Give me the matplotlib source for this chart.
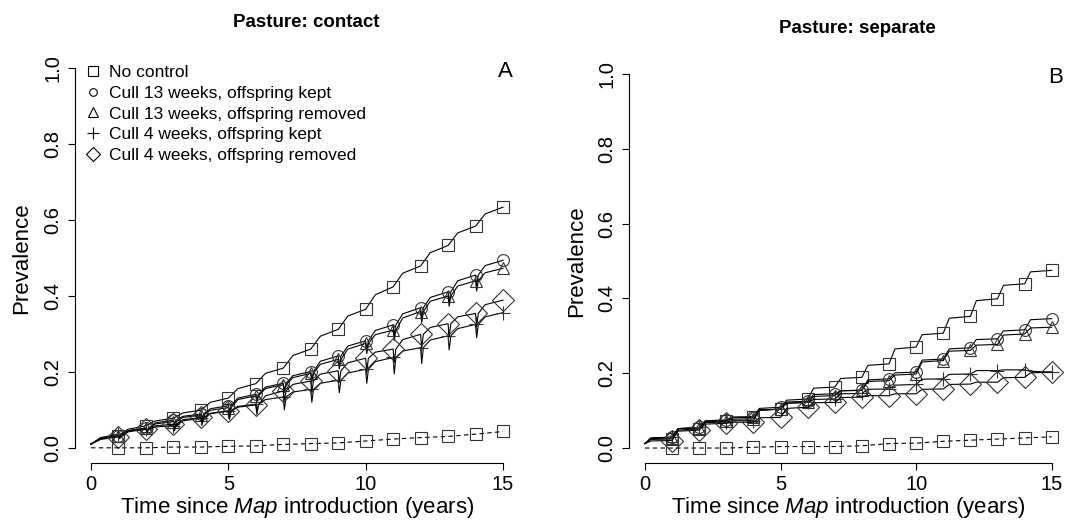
import matplotlib.pyplot as plt
from matplotlib.lines import Line2D

plt.rcParams['font.family'] = ['Liberation Sans', 'DejaVu Sans']
plt.rcParams['mathtext.fontset'] = 'custom'
plt.rcParams['mathtext.it'] = 'Liberation Sans:italic'
plt.rcParams['mathtext.rm'] = 'Liberation Sans'

years = list(range(1, 16))
labels = ['No control', 'Cull 13 weeks, offspring kept', 'Cull 13 weeks, offspring removed',
          'Cull 4 weeks, offspring kept', 'Cull 4 weeks, offspring removed']
markers = ['s', 'o', '^', '+', 'D']
msize = {'s': 9, 'o': 8.5, '^': 9, '+': 10.5, 'D': 11}
msize_leg = {'s': 6.5, 'o': 5.5, '^': 7, '+': 9, 'D': 7.5}

# ---- Pasture: contact (A) ----
# valores nos marcadores (anos 1..15)
a_none = [0.032, 0.058, 0.078, 0.099, 0.131, 0.169, 0.210, 0.260, 0.312, 0.365, 0.424, 0.479, 0.533, 0.584, 0.634]
a_c13k = [0.032, 0.052, 0.073, 0.089, 0.111, 0.141, 0.170, 0.201, 0.242, 0.282, 0.324, 0.369, 0.411, 0.455, 0.494]
a_c13r = [0.032, 0.052, 0.069, 0.086, 0.106, 0.137, 0.166, 0.196, 0.233, 0.275, 0.310, 0.359, 0.400, 0.440, 0.473]
a_c4k = [0.036, 0.049, 0.058, 0.078, 0.097, 0.115, 0.134, 0.154, 0.178, 0.207, 0.238, 0.264, 0.295, 0.325, 0.356]
a_c4r = [0.029, 0.049, 0.062, 0.080, 0.097, 0.113, 0.150, 0.176, 0.203, 0.236, 0.260, 0.299, 0.327, 0.354, 0.389]
a_low = [0.000, 0.000, 0.002, 0.002, 0.004, 0.005, 0.009, 0.011, 0.013, 0.018, 0.023, 0.027, 0.030, 0.036, 0.043]
# valores logo depois da subida anual (anos 0..14)
a_none_k = [0.024, 0.049, 0.071, 0.092, 0.120, 0.156, 0.196, 0.243, 0.294, 0.347, 0.403, 0.460, 0.514, 0.566, 0.616]
a_c13k_k = [0.024, 0.045, 0.066, 0.083, 0.103, 0.131, 0.160, 0.190, 0.228, 0.268, 0.309, 0.353, 0.396, 0.440, 0.480]
a_c13r_k = [0.024, 0.045, 0.063, 0.080, 0.099, 0.127, 0.156, 0.185, 0.220, 0.260, 0.298, 0.342, 0.386, 0.426, 0.461]
a_c4k_k = [0.027, 0.045, 0.055, 0.071, 0.090, 0.109, 0.127, 0.147, 0.170, 0.197, 0.227, 0.255, 0.284, 0.314, 0.345]
a_c4r_k = [0.022, 0.042, 0.058, 0.074, 0.091, 0.107, 0.137, 0.167, 0.194, 0.224, 0.252, 0.285, 0.317, 0.345, 0.377]
# quedas no abate (anos 1..14)
a_c13k_d = [0.028, 0.046, 0.065, 0.079, 0.098, 0.125, 0.150, 0.178, 0.215, 0.255, 0.295, 0.340, 0.382, 0.428]
a_c13r_d = [0.028, 0.046, 0.061, 0.076, 0.093, 0.121, 0.146, 0.173, 0.208, 0.248, 0.283, 0.330, 0.373, 0.413]
a_c4k_d = [0.028, 0.038, 0.045, 0.060, 0.075, 0.088, 0.100, 0.120, 0.145, 0.170, 0.195, 0.222, 0.258, 0.290]
a_c4r_d = [0.024, 0.042, 0.052, 0.068, 0.082, 0.095, 0.125, 0.148, 0.172, 0.200, 0.225, 0.262, 0.292, 0.320]

# ---- Pasture: separate (B) ----
b_none = [0.024, 0.051, 0.071, 0.082, 0.104, 0.131, 0.163, 0.189, 0.225, 0.270, 0.307, 0.352, 0.399, 0.439, 0.475]
b_c13k = [0.029, 0.055, 0.075, 0.084, 0.109, 0.125, 0.145, 0.154, 0.185, 0.203, 0.238, 0.268, 0.292, 0.316, 0.346]
b_c13r = [0.027, 0.054, 0.073, 0.078, 0.104, 0.122, 0.140, 0.155, 0.180, 0.198, 0.234, 0.261, 0.277, 0.305, 0.323]
b_c4k = [0.029, 0.055, 0.069, 0.073, 0.104, 0.122, 0.131, 0.146, 0.158, 0.170, 0.185, 0.198, 0.207, 0.209, 0.203]
b_c4r = [0.020, 0.048, 0.066, 0.069, 0.082, 0.109, 0.122, 0.136, 0.140, 0.145, 0.158, 0.171, 0.176, 0.189, 0.203]
b_low = [0.000, 0.000, 0.000, 0.002, 0.004, 0.004, 0.004, 0.006, 0.012, 0.013, 0.018, 0.021, 0.024, 0.027, 0.030]
b_none_k = [0.023, 0.048, 0.069, 0.081, 0.102, 0.128, 0.160, 0.186, 0.221, 0.265, 0.303, 0.347, 0.394, 0.435, 0.471]
b_c13k_k = [0.027, 0.052, 0.073, 0.083, 0.106, 0.123, 0.143, 0.153, 0.182, 0.201, 0.235, 0.265, 0.290, 0.313, 0.343]
b_c13r_k = [0.025, 0.051, 0.071, 0.077, 0.101, 0.120, 0.138, 0.153, 0.178, 0.195, 0.230, 0.259, 0.275, 0.302, 0.321]
b_c4k_k = [0.027, 0.052, 0.068, 0.073, 0.101, 0.120, 0.130, 0.145, 0.157, 0.168, 0.184, 0.197, 0.207, 0.209, 0.205]
b_c4r_k = [0.019, 0.045, 0.064, 0.069, 0.081, 0.106, 0.121, 0.135, 0.140, 0.145, 0.157, 0.170, 0.176, 0.188, 0.201]

a_start = 0.010
b_start = 0.012


def caminho(start, marks, knees, dips=None, dt=0.35):
    t = [0.0, dt]
    y = [start, knees[0]]
    for i, v in enumerate(marks):
        n = years[i]
        t.append(n)
        y.append(v)
        if n == years[-1]:
            break
        if dips is not None:
            t += [n + 0.04, n + 0.1]
            y += [dips[i], v]
        t.append(n + dt)
        y.append(knees[n])
    return t, y


def painel(ax, start, series, low, dt):
    for (marks, knees, dips), m in zip(series, markers):
        t, y = caminho(start, marks, knees, dips, dt)
        ax.plot(t, y, color='k', lw=0.8)
        ax.plot(years, marks, ls='none', marker=m, ms=msize[m],
                mfc='none', mec='#333333', mew=0.8)
    ax.plot([0] + years, [0] + low, color='k', lw=0.8, ls=(0, (4, 3)))
    ax.plot(years, low, ls='none', marker='s', ms=msize['s'], mfc='none', mec='#333333', mew=0.8)

    ax.set_xlim(-0.6, 15.6)
    ax.set_ylim(-0.04, 1.04)
    for s in ['top', 'right']:
        ax.spines[s].set_visible(False)
    ax.spines['left'].set_bounds(0, 1)
    ax.spines['bottom'].set_bounds(0, 15)
    ax.set_xticks([0, 5, 10, 15])
    ax.set_yticks([0, 0.2, 0.4, 0.6, 0.8, 1.0])
    ax.set_yticklabels(['0.0', '0.2', '0.4', '0.6', '0.8', '1.0'], rotation=90, va='center')
    ax.tick_params(labelsize=14.5, length=5, width=0.8)
    ax.tick_params(axis='x', pad=4)
    ax.tick_params(axis='y', pad=4)
    ax.set_xlabel('Time since $\\it{Map}$ introduction (years)', fontsize=16, labelpad=0)
    ax.set_ylabel('Prevalence', fontsize=16)
    ax.yaxis.set_label_coords(-0.095, 0.5)


fig = plt.figure(figsize=(10.79, 5.24), dpi=100)
ax1 = fig.add_axes([74.5 / 1079, 61 / 524, 445 / 1079, 410 / 524])
ax2 = fig.add_axes([628.7 / 1079, 61 / 524, 439.3 / 1079, 404 / 524])

painel(ax1, a_start,
       [(a_none, a_none_k, None), (a_c13k, a_c13k_k, a_c13k_d), (a_c13r, a_c13r_k, a_c13r_d),
        (a_c4k, a_c4k_k, a_c4k_d), (a_c4r, a_c4r_k, a_c4r_d)], a_low, 0.35)
painel(ax2, b_start,
       [(b_none, b_none_k, None), (b_c13k, b_c13k_k, None), (b_c13r, b_c13r_k, None),
        (b_c4k, b_c4k_k, None), (b_c4r, b_c4r_k, None)], b_low, 0.22)

handles = [Line2D([], [], ls='none', marker=m, ms=msize_leg[m], mfc='none', mec='k', mew=0.8)
           for m in markers]
ax1.legend(handles, labels, loc='upper left', bbox_to_anchor=(0.0, 0.995), frameon=False,
           fontsize=12.5, handlelength=1.0, handletextpad=0.45, labelspacing=0.33, borderaxespad=0.15)

ax1.text(14.8, 0.99, 'A', fontsize=16, ha='left', va='center')
ax2.text(14.85, 0.99, 'B', fontsize=16, ha='left', va='center')
fig.text(0.284, 0.958, 'Pasture: contact', fontsize=13.5, fontweight='bold', ha='center', va='center')
fig.text(0.795, 0.946, 'Pasture: separate', fontsize=13.5, fontweight='bold', ha='center', va='center')

fig.savefig('out.png', dpi=100)
